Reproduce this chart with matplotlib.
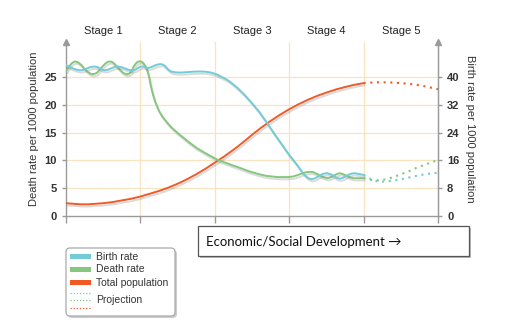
import numpy as np
import matplotlib.pyplot as plt
import matplotlib.patheffects as pe
from matplotlib.patches import FancyBboxPatch, Rectangle

plt.rcParams['font.family'] = ['Liberation Sans', 'DejaVu Sans']

# stage units along x (0..5), death-rate units on left axis
birth_x = [0.0, 0.05, 0.1, 0.15, 0.19, 0.24, 0.285, 0.33, 0.38, 0.42, 0.455, 0.49, 0.52, 0.56, 0.605,
           0.65, 0.69, 0.74, 0.79, 0.84, 0.89, 0.93, 0.96, 0.99, 1.02, 1.06, 1.1, 1.15, 1.2, 1.25,
           1.29, 1.33, 1.37, 1.41, 1.47, 1.53, 1.6, 1.7, 1.8, 1.88, 1.95, 2.02, 2.08, 2.14, 2.2,
           2.3, 2.4, 2.5, 2.6, 2.7, 2.8, 2.9, 3.0, 3.1, 3.17, 3.22, 3.26, 3.3, 3.35, 3.4, 3.46,
           3.51, 3.56, 3.6, 3.64, 3.68, 3.72, 3.77, 3.82, 3.87, 3.92, 3.96, 4.0]
birth_y = [27.1, 26.8, 26.5, 26.3, 26.2, 26.3, 26.55, 26.8, 26.9, 26.8, 26.55, 26.3, 26.2, 26.3, 26.55,
           26.8, 26.9, 26.8, 26.55, 26.3, 26.2, 26.3, 26.55, 26.8, 26.9, 26.8, 26.6, 26.8, 27.1, 27.3,
           27.3, 27.0, 26.4, 26.0, 25.85, 25.8, 25.85, 25.95, 26.0, 25.95, 25.8, 25.5, 25.1, 24.7, 24.2,
           23.1, 21.8, 20.3, 18.7, 16.8, 14.8, 12.9, 11.0, 9.3, 8.0, 7.2, 6.8, 6.6, 6.8, 7.2, 7.6,
           7.7, 7.5, 7.2, 6.85, 6.7, 6.85, 7.2, 7.55, 7.7, 7.6, 7.5, 7.4]

death_x = [0.0, 0.03, 0.06, 0.09, 0.12, 0.15, 0.18, 0.21, 0.24, 0.27, 0.3, 0.33, 0.36, 0.39, 0.42,
           0.475, 0.53, 0.56, 0.59, 0.62, 0.65, 0.7, 0.76, 0.79, 0.82, 0.85, 0.88, 0.9, 0.94, 0.96,
           0.98, 1.01, 1.04, 1.07, 1.1, 1.12, 1.14, 1.17, 1.2, 1.25, 1.3, 1.36, 1.42, 1.53, 1.65,
           1.76, 1.9, 2.04, 2.2, 2.35, 2.47, 2.6, 2.7, 2.85, 2.98, 3.05, 3.1, 3.16, 3.22, 3.28,
           3.32, 3.37, 3.42, 3.47, 3.51, 3.55, 3.6, 3.64, 3.68, 3.72, 3.77, 3.82, 3.86, 3.93, 4.0]
death_y = [26.1, 26.6, 27.2, 27.6, 27.8, 27.7, 27.46, 27.1, 26.65, 26.2, 25.84, 25.6, 25.5, 25.6, 25.8,
           26.65, 27.45, 27.7, 27.8, 27.7, 27.4, 26.65, 25.85, 25.6, 25.5, 25.6, 25.95, 26.65, 27.45, 27.7,
           27.8, 27.8, 27.5, 26.9, 25.9, 24.8, 23.4, 21.8, 20.5, 18.9, 17.8, 16.8, 15.9, 14.6, 13.3,
           12.2, 11.1, 10.1, 9.3, 8.6, 8.0, 7.5, 7.2, 7.0, 7.0, 7.1, 7.3, 7.6, 7.85, 7.95,
           7.9, 7.6, 7.25, 6.95, 6.8, 6.9, 7.25, 7.55, 7.7, 7.55, 7.25, 6.95, 6.8, 6.8, 6.8]

pop_x = [0.0, 0.1, 0.2, 0.3, 0.4, 0.5, 0.625, 0.75, 0.875, 1.0, 1.125, 1.25, 1.375, 1.5, 1.625,
         1.75, 1.875, 2.0, 2.125, 2.25, 2.375, 2.5, 2.625, 2.75, 2.875, 3.0, 3.125, 3.25, 3.375,
         3.5, 3.625, 3.75, 3.875, 4.0]
pop_y = [2.3, 2.2, 2.1, 2.1, 2.2, 2.3, 2.5, 2.8, 3.1, 3.5, 4.0, 4.5, 5.1, 5.8, 6.6,
         7.5, 8.5, 9.6, 10.7, 11.9, 13.2, 14.6, 15.9, 17.1, 18.2, 19.2, 20.1, 20.9, 21.6,
         22.2, 22.75, 23.2, 23.6, 23.9]

proj_x = [4.0, 4.1, 4.2, 4.3, 4.4, 4.5, 4.6, 4.7, 4.8, 4.9, 5.0]
proj_birth = [7.4, 6.6, 6.2, 6.2, 6.35, 6.6, 6.9, 7.2, 7.45, 7.65, 7.8]
proj_death = [6.8, 6.5, 6.4, 6.6, 7.0, 7.5, 8.0, 8.6, 9.1, 9.6, 10.1]
proj_pop = [23.9, 24.0, 24.05, 24.05, 24.0, 23.9, 23.8, 23.6, 23.4, 23.1, 22.8]

stages = ["Stage 1", "Stage 2", "Stage 3", "Stage 4", "Stage 5"]
left_ticks = [0, 5, 10, 15, 20, 25]
right_ticks = [0, 8, 16, 24, 32, 40]
legend_names = ["Birth rate", "Death rate", "Total population"]

blue = '#72cbd6'
green = '#86c67e'
orange = '#f15a24'
grid_c = '#f9e4c2'
axis_c = '#9a9a9a'

fig = plt.figure(figsize=(5.12, 3.30), dpi=100)
ax = fig.add_axes([66/512, 1-216/330, 372/512, 174/330])
ax.set_xlim(0, 5)
ax.set_ylim(0, 31.3)

for v in left_ticks[1:]:
    ax.axhline(v, color=grid_c, lw=0.9, zorder=0)
for v in range(1, 5):
    ax.axvline(v, color=grid_c, lw=0.9, zorder=0)

shadow = [pe.SimpleLineShadow(offset=(0.8, -1.6), shadow_color='#888888', alpha=0.3), pe.Normal()]
for xs, ys, c in ((pop_x, pop_y, orange), (death_x, death_y, green), (birth_x, birth_y, blue)):
    ax.plot(xs, ys, color=c, lw=1.4, solid_capstyle='round', solid_joinstyle='round',
            path_effects=shadow, zorder=3)
for ys, c in ((proj_pop, orange), (proj_death, green), (proj_birth, blue)):
    ax.plot(proj_x, ys, color=c, lw=1.5, ls=(0, (1, 2.2)), zorder=3)

ax.spines['top'].set_visible(False)
for s in ('left', 'bottom', 'right'):
    ax.spines[s].set_color(axis_c)
    ax.spines[s].set_linewidth(1)
ax.set_xticks(range(6))
ax.set_xticklabels([])
ax.tick_params(axis='x', colors=axis_c, length=5, width=1)
ax.set_yticks(left_ticks)
ax.tick_params(axis='y', colors=axis_c, length=3, width=1, labelcolor='#333333', labelsize=8)
for t in ax.get_yticklabels():
    t.set_fontweight('bold')
ax.set_ylabel("Death rate per 1000 population", fontsize=8, color='#333333', labelpad=4)

ax2 = ax.twinx()
ax2.set_ylim(0, 31.3 * 1.6)
ax2.set_yticks(right_ticks)
ax2.tick_params(axis='y', colors=axis_c, length=3, width=1, labelcolor='#333333', labelsize=8)
for t in ax2.get_yticklabels():
    t.set_fontweight('bold')
for s in ('top', 'left', 'bottom'):
    ax2.spines[s].set_visible(False)
ax2.spines['right'].set_color(axis_c)
ax2.set_ylabel("Birth rate per 1000 population", fontsize=8, color='#333333', rotation=-90, labelpad=11)

# arrow heads on the axes
ax.plot([0, 5], [31.3, 31.3], marker='^', ls='none', color=axis_c, ms=4, clip_on=False, zorder=5)

for i, s in enumerate(stages):
    ax.text(i + 0.5, 1.065, s, transform=ax.get_xaxis_transform(), ha='center', va='center',
            fontsize=8, color='#222222')

# overlay in pixel coords for boxes
ov = fig.add_axes([0, 0, 1, 1])
ov.set_xlim(0, 512)
ov.set_ylim(330, 0)
ov.axis('off')
ov.set_zorder(-1)
ax.set_zorder(1)
ax2.set_zorder(2)
ax.patch.set_alpha(0)

ov.add_patch(Rectangle((199.5, 227.5), 271, 30, facecolor='#bbbbbb', edgecolor='none'))
ov.add_patch(Rectangle((198, 226), 271, 30, facecolor='white', edgecolor='#555555', lw=0.9))
ov.text(206, 241.5, "Economic/Social Development \u2192", fontsize=9.5, color='#111111',
        va='center', ha='left', family=['Lato', 'DejaVu Sans'])

ov.add_patch(FancyBboxPatch((68, 250), 109, 68, boxstyle='round,pad=0,rounding_size=4',
                            facecolor='#cccccc', edgecolor='none'))
ov.add_patch(FancyBboxPatch((66, 248), 109, 68, boxstyle='round,pad=0,rounding_size=4',
                            facecolor='white', edgecolor='#aaaaaa', lw=0.9))
rows = [256.7, 269.5, 282.5]
for y, c, name in zip(rows, (blue, green, orange), legend_names):
    ov.add_patch(Rectangle((70, y - 2.5), 21, 5, facecolor=c, edgecolor='none'))
    ov.text(96, y, name, fontsize=7.5, color='#333333', va='center')
for y, c in zip((292.5, 300.3, 308.3), (blue, green, orange)):
    ov.plot([70, 91], [y, y], color=c, lw=0.9, ls=(0, (1, 1.5)))
ov.text(96, 300.3, "Projection", fontsize=7.5, color='#333333', va='center')

fig.savefig("out.png", dpi=100)
